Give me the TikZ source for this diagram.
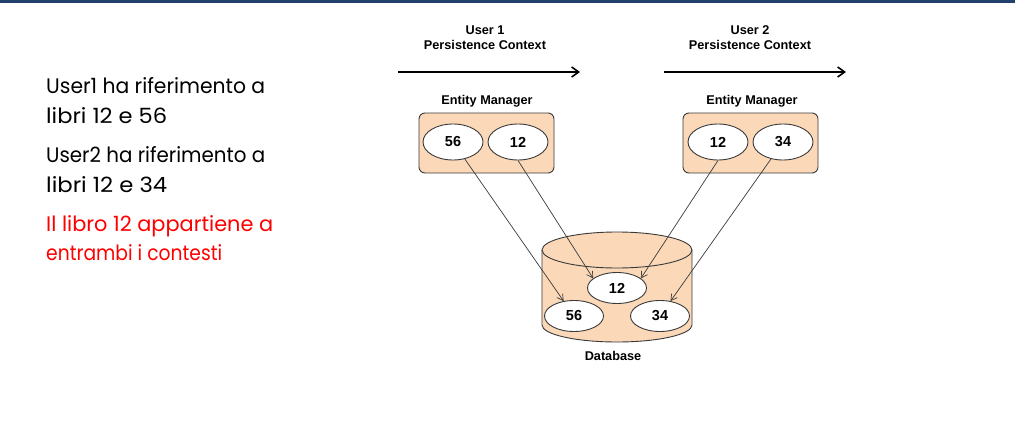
\documentclass[tikz,border=0pt]{standalone}
\usepackage{fontspec}
\usepackage{graphicx}
\setmainfont{Liberation Sans}
\newfontfamily\leftfont{Poppins}
\usetikzlibrary{shapes.geometric,arrows.meta}
\definecolor{peach}{HTML}{FAD8B8}
\definecolor{navybar}{HTML}{22406E}
\definecolor{edge}{HTML}{3A3A3A}
\begin{document}
\begin{tikzpicture}[x=1pt,y=-1pt,
  lbl/.style={font=\bfseries\fontsize{12.7}{15}\selectfont, inner sep=0, align=center},
  ent/.style={ellipse, draw=edge, line width=0.9pt, fill=white, minimum width=60pt, minimum height=36pt, inner sep=0, font=\bfseries\fontsize{14.5}{16}\selectfont},
  dbent/.style={ent, minimum width=59pt, minimum height=31pt},
  embox/.style={draw=edge, line width=0.9pt, fill=peach, rounded corners=6pt, minimum width=135pt, minimum height=60pt, inner sep=0},
  ctxarrow/.style={line width=1.6pt, -{Straight Barb[length=7pt,width=10pt,line width=1.6pt]}},
  link/.style={draw=edge, line width=0.7pt, -{Straight Barb[length=6pt,width=7pt]}},
  lefttxt/.style={anchor=base west, inner sep=0, font=\leftfont\fontsize{21}{24}\selectfont}
]
\useasboundingbox (0,0) rectangle (1019,420);
% top bar
\coordinate (barL) at (0,2);
\coordinate (barR) at (1015,2);
\draw[navybar, line width=3pt] (barL) -- (barR);

% left text
\node[lefttxt] (t1) at (46,93) {\resizebox{219pt}{\height}{User1 ha riferimento a}};
\node[lefttxt] (t2) at (46,123) {\resizebox{121pt}{\height}{libri 12 e 56}};
\node[lefttxt] (t3) at (46,162) {\resizebox{219pt}{\height}{User2 ha riferimento a}};
\node[lefttxt] (t4) at (46,192) {\resizebox{121pt}{\height}{libri 12 e 34}};
\node[lefttxt, text=red] (t5) at (46,231) {\resizebox{227pt}{\height}{Il libro 12 appartiene a}};
\node[lefttxt, text=red] (t6) at (46,260) {\resizebox{176pt}{\height}{entrambi i contesti}};

% context headers
\node[lbl] (u1) at (485,38) {User 1\\Persistence Context};
\node[lbl] (u2) at (750,38) {User 2\\Persistence Context};
\coordinate (a1s) at (398,72);
\coordinate (a1e) at (580,72);
\coordinate (a2s) at (664,72);
\coordinate (a2e) at (846,72);
\draw[ctxarrow] (a1s) -- (a1e);
\draw[ctxarrow] (a2s) -- (a2e);

% entity managers
\node[lbl] (em1l) at (487,101) {Entity Manager};
\node[lbl] (em2l) at (752,101) {Entity Manager};
\node[embox] (em1) at (486.5,143) {};
\node[embox] (em2) at (750.5,143) {};
\node[ent] (e56) at (453,142) {56};
\node[ent] (e12a) at (518,142) {12};
\node[ent] (e12b) at (718,142) {12};
\node[ent] (e34) at (783,142) {34};

% database cylinder (y axis points down: angle 90 is downwards)
\path[draw=edge, line width=0.9pt, fill=peach]
  (542,250) -- (542,325) arc[start angle=180, end angle=0, x radius=75, y radius=17]
  -- (692,250) arc[start angle=0, end angle=-180, x radius=75, y radius=18] -- cycle;
\draw[edge, line width=0.9pt] (542,250) arc[start angle=180, end angle=0, x radius=75, y radius=18];
\node[lbl] (dbl) at (613,356) {Database};
\node[dbent] (d12) at (617,288) {12};
\node[dbent] (d56) at (574,316) {56};
\node[dbent] (d34) at (660,316) {34};

% links
\draw[link] (e56) -- (d56);
\draw[link] (e12a.south) -- (d12.158);
\draw[link] (e12b.south) -- (d12.22);
\draw[link] (e34) -- (d34);
\end{tikzpicture}
\end{document}
